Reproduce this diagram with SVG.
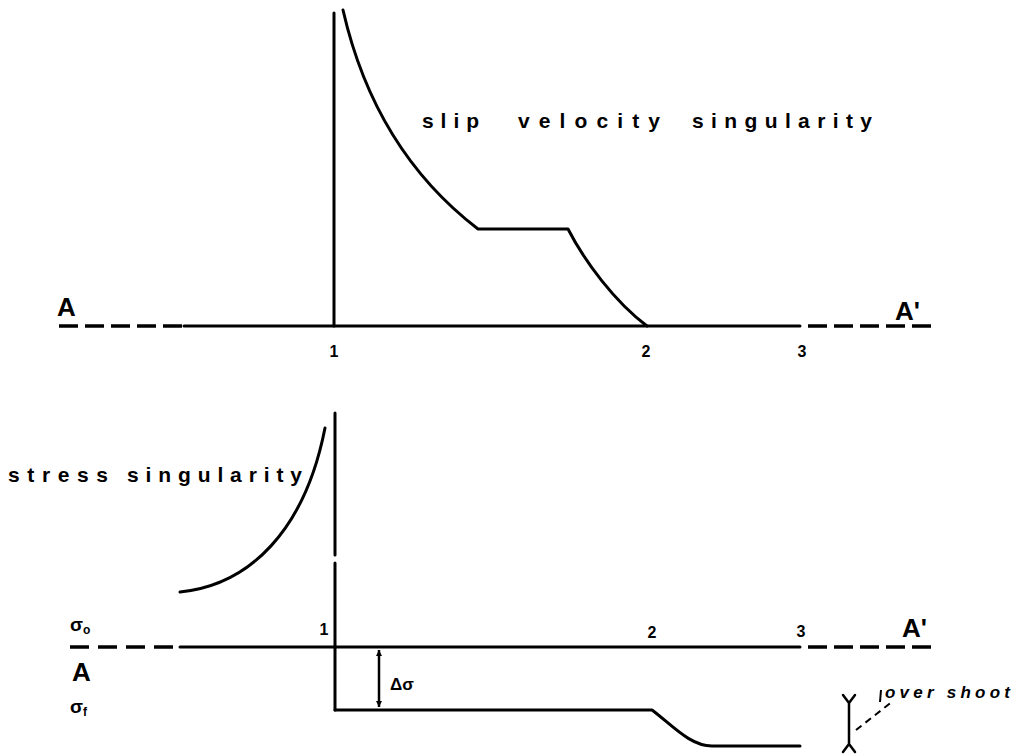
<svg xmlns="http://www.w3.org/2000/svg" width="1020" height="754" viewBox="0 0 1020 754">
<style>
.ln{fill:none;stroke:#000;stroke-width:3;stroke-linecap:round;stroke-linejoin:round}
.dash{fill:none;stroke:#000;stroke-width:3.5;stroke-dasharray:19 7}
.lbl{font-family:"Liberation Sans",Arial,sans-serif;font-weight:bold;fill:#000}
.num{font-family:"Liberation Sans",Arial,sans-serif;font-weight:bold;font-size:16px;fill:#000;text-anchor:middle}
.big{font-family:"Liberation Sans",Arial,sans-serif;font-weight:bold;font-size:26px;fill:#000}
</style>
<defs>
<marker id="ah" viewBox="0 0 10 10" refX="10" refY="5" markerWidth="6" markerHeight="6" orient="auto-start-reverse" markerUnits="userSpaceOnUse">
<path d="M0,0 L10,5 L0,10 z" fill="#000"/>
</marker>
</defs>
<rect width="1020" height="754" fill="#fff"/>

<g id="connectors">
<line class="dash" x1="59" y1="326" x2="186" y2="326"/>
<line class="ln" x1="184" y1="326" x2="800" y2="326"/>
<line class="dash" x1="808" y1="326" x2="933" y2="326"/>
<line class="ln" x1="334" y1="13" x2="334" y2="326"/>
<path class="ln" d="M343,10 Q375,150 478,229 L568,229 C585,262 615,302 647,326"/>
<line class="dash" x1="70" y1="647" x2="182" y2="647" style="stroke-dasharray:19 9"/>
<line class="ln" x1="180" y1="647" x2="800" y2="647"/>
<line class="dash" x1="808" y1="647" x2="933" y2="647"/>
<line class="ln" x1="335" y1="413" x2="335" y2="555"/>
<line class="ln" x1="335" y1="563" x2="335" y2="710"/>
<path class="ln" d="M180,592 C250,585 305,530 325,428"/>
<path class="ln" d="M335,710 L652,710 C672,725 690,746 712,746 L800,746"/>
<line x1="379" y1="650" x2="379" y2="707" stroke="#000" stroke-width="2.5" marker-start="url(#ah)" marker-end="url(#ah)"/>
<path class="ln" d="M843,695 L849,703 L855,695 M849,703 L849,744 M843,752 L849,744 L855,752" style="stroke-width:2.5"/>
<path d="M856,730 L893,701" fill="none" stroke="#000" stroke-width="2" stroke-dasharray="7 5"/>
<path d="M881,690 L880,702" fill="none" stroke="#000" stroke-width="2"/>
</g>

<g id="labels-top">
<text class="big" font-size="28" x="57" y="316">A</text>
<text class="big" x="895" y="320">A'</text>
<text class="num" x="334" y="357">1</text>
<text class="num" x="646" y="357">2</text>
<text class="num" x="802" y="357">3</text>
<text class="lbl" font-size="21" x="422" y="128" textLength="57" lengthAdjust="spacing">slip</text>
<text class="lbl" font-size="21" x="518" y="128" textLength="142" lengthAdjust="spacing">velocity</text>
<text class="lbl" font-size="21" x="692" y="128" textLength="180" lengthAdjust="spacing">singularity</text>
</g>

<g id="labels-bottom">
<text class="lbl" font-size="21" x="8" y="482" textLength="100" lengthAdjust="spacing">stress</text>
<text class="lbl" font-size="21" x="127" y="482" textLength="175" lengthAdjust="spacing">singularity</text>
<text class="lbl" font-size="19" x="70" y="631">σ<tspan font-size="12" dy="3">o</tspan></text>
<text class="big" x="72" y="681">A</text>
<text class="lbl" font-size="19" x="70" y="713">σ<tspan font-size="12" dy="3">f</tspan></text>
<text class="num" x="324" y="635">1</text>
<text class="num" x="652" y="638">2</text>
<text class="num" x="801" y="637">3</text>
<text class="big" x="902" y="637">A'</text>
<text class="lbl" font-size="17" x="390" y="690">Δσ</text>
<text class="lbl" font-size="17" font-style="italic" x="885" y="698" textLength="125" lengthAdjust="spacing">over shoot</text>
</g>
</svg>
